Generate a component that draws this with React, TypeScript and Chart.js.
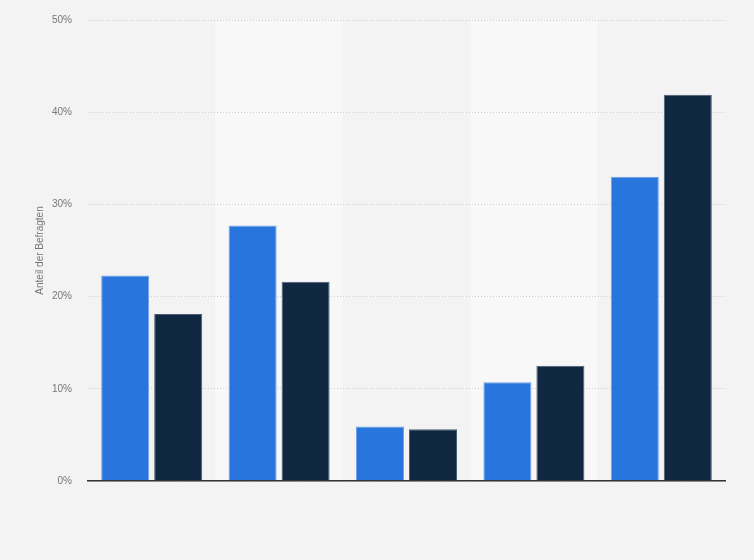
import React, { useEffect, useRef } from 'react'
import Chart, { registerables } from 'chart.js/auto'

const categories = ['Kategorie 1', 'Kategorie 2', 'Kategorie 3', 'Kategorie 4', 'Kategorie 5']
const seriesA = [22.3, 27.7, 5.9, 10.7, 33.0]
const seriesB = [18.1, 21.6, 5.6, 12.5, 41.9]
const seriesNames = ['Gruppe A', 'Gruppe B']
const yTicks = [0, 10, 20, 30, 40, 50]

// background + alternating column bands
const bandPlugin = {
  id: 'bands',
  beforeDraw: (chart: any) => {
    const { ctx, chartArea, scales } = chart
    ctx.save()
    ctx.fillStyle = '#f3f3f3'
    ctx.fillRect(0, 0, chart.width, chart.height)
    const x = scales.x
    const w = (chartArea.right - chartArea.left) / categories.length
    ctx.fillStyle = '#f8f8f8'
    categories.forEach((_, i) => {
      if (i % 2 === 1) {
        const c = x.getPixelForValue(i)
        ctx.fillRect(c - w / 2, chartArea.top, w, chartArea.bottom - chartArea.top)
      }
    })
    ctx.restore()
  }
}

const App: React.FC = () => {
  const chartRef = useRef<HTMLCanvasElement | null>(null)
  const chartInstance = useRef<Chart | null>(null)

  useEffect(() => {
    Chart.register(...registerables)
    document.body.style.margin = '0'

    if (chartRef.current !== null) {
      if (chartInstance.current !== null) {
        chartInstance.current.destroy()
      }
      const ctx = chartRef.current.getContext('2d')
      if (ctx !== null) {
        chartInstance.current = new Chart(ctx, {
          type: 'bar',
          data: {
            labels: categories,
            datasets: [
              {
                label: seriesNames[0],
                data: seriesA,
                backgroundColor: '#2876dd',
                borderColor: '#6fa2e8',
                borderWidth: 1
              },
              {
                label: seriesNames[1],
                data: seriesB,
                backgroundColor: '#0f2740',
                borderColor: '#4a5d70',
                borderWidth: 1
              }
            ]
          },
          plugins: [bandPlugin],
          options: {
            responsive: false,
            animation: false,
            layout: { padding: { top: 20, right: 29, bottom: 79, left: 0 } },
            datasets: {
              bar: { categoryPercentage: 0.832, barPercentage: 0.906 }
            },
            plugins: {
              legend: { display: false },
              tooltip: { enabled: false }
            },
            scales: {
              x: {
                ticks: { display: false },
                grid: { display: false, drawTicks: false },
                border: { display: true, color: '#333333', width: 1.5, z: 2 }
              },
              y: {
                min: 0,
                max: 50,
                afterFit: (scale: any) => {
                  scale.width = 88
                  scale.paddingTop = 0
                  scale.paddingBottom = 0
                },
                afterBuildTicks: (scale: any) => {
                  scale.ticks = yTicks.map((v) => ({ value: v }))
                },
                ticks: {
                  padding: 16,
                  color: '#777777',
                  font: { family: 'Liberation Sans, Arial, sans-serif', size: 10 },
                  callback: (v: any) => `${v}%`
                },
                grid: {
                  color: '#cfcfcf',
                  drawTicks: false
                },
                border: { display: false, dash: [1, 2] },
                title: {
                  display: true,
                  text: 'Anteil der Befragten',
                  color: '#777777',
                  font: { family: 'Liberation Sans, Arial, sans-serif', size: 10 },
                  padding: { top: 34, bottom: 0 }
                }
              }
            }
          }
        })
      }
    }

    return () => {
      if (chartInstance.current !== null) {
        chartInstance.current.destroy()
        chartInstance.current = null
      }
    }
  }, [])

  return <canvas ref={chartRef} width={754} height={560} style={{ display: 'block' }} />
}

export default App
